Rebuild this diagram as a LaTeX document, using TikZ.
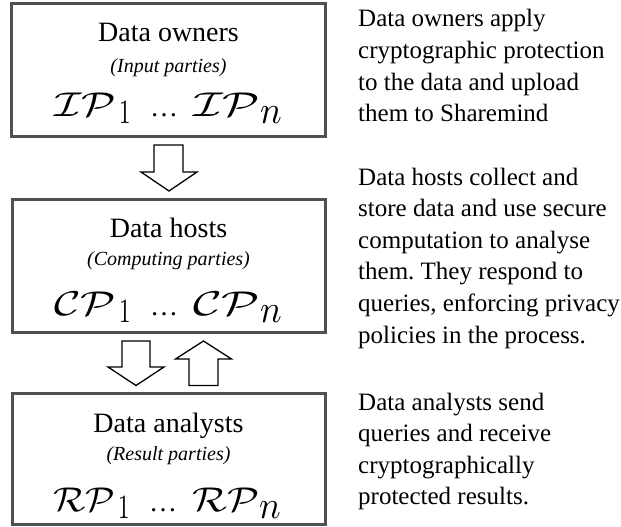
\documentclass[tikz,border=0pt]{standalone}
\usepackage[no-math]{fontspec}
\setmainfont{Liberation Serif}
\usepackage{graphicx}
\frenchspacing
\definecolor{boxgray}{RGB}{80,80,80}
\newcommand{\tridots}{{\fontsize{28}{30}\selectfont\textellipsis}}
\newcommand{\partyrow}[1]{%
  \makebox[65pt][l]{\resizebox{62pt}{23.5pt}{$\mathcal{#1}$}}%
  \makebox[31pt][l]{\raisebox{-7pt}{\scalebox{2.3}[3.4]{$1$}}}%
  \makebox[43pt][l]{\tridots}%
  \resizebox{67pt}{23.5pt}{$\mathcal{#1}$}%
  \raisebox{-7pt}{\scalebox{3.6}[3.9]{$n$}}}
\begin{document}
\begin{tikzpicture}[x=1pt,y=-1pt,
  box/.style={draw=boxgray, line width=3pt, inner sep=0pt, outer sep=0pt, anchor=north west},
  title/.style={anchor=base, inner sep=0pt, font=\fontsize{28}{32}\selectfont},
  subtitle/.style={anchor=base, inner sep=0pt, font=\fontsize{20}{24}\selectfont\itshape},
  formula/.style={anchor=base west, inner sep=0pt},
  desc/.style={anchor=base west, inner sep=0pt, font=\fontsize{25}{31.6}\selectfont},
  blockarrow/.style={draw=black, line width=1.3pt, fill=white, line join=miter}]
\useasboundingbox (0,0) rectangle (621,527);

% boxes
\node[box, minimum width=314pt, minimum height=132pt] (owners) at (11.5,4) {};
\node[box, minimum width=313pt, minimum height=133.5pt] (hosts) at (12,199) {};
\node[box, minimum width=313pt, minimum height=131pt] (analysts) at (12,393) {};

% box texts
\node[title] (t1) at (168.5,42) {Data owners};
\node[subtitle] (s1) at (168.5,73) {(Input parties)};
\node[formula] (f1) at (54,116.5) {\partyrow{IP}};

\node[title] (t2) at (168.5,237) {Data hosts};
\node[subtitle] (s2) at (168.5,265) {(Computing parties)};
\node[formula] (f2) at (54,315.5) {\partyrow{CP}};

\node[title] (t3) at (168.5,432) {Data analysts};
\node[subtitle] (s3) at (168.5,460) {(Result parties)};
\node[formula] (f3) at (53,511.5) {\partyrow{RP}};

% descriptions
\node[desc] (d1) at (358,27) {\begin{tabular}[t]{@{}l@{}}Data owners apply\\cryptographic protection\\to the data and upload\\them to Sharemind\end{tabular}};
\node[desc] (d2) at (358,185) {\begin{tabular}[t]{@{}l@{}}Data hosts collect and\\store data and use secure\\computation to analyse\\them. They respond to\\queries, enforcing privacy\\policies in the process.\end{tabular}};
\node[desc] (d3) at (358,410) {\begin{tabular}[t]{@{}l@{}}Data analysts send\\queries and receive\\cryptographically\\protected results.\end{tabular}};

% block arrows
\draw[blockarrow] (154,145) -- (183,145) -- (183,172) -- (197,172) -- (169,191) -- (141,172) -- (154,172) -- cycle;
\draw[blockarrow] (122,341) -- (150,341) -- (150,367) -- (164,367) -- (136,385.5) -- (108,367) -- (122,367) -- cycle;
\draw[blockarrow] (189,385.5) -- (218,385.5) -- (218,359) -- (231.5,359) -- (203.5,341) -- (175.5,359) -- (189,359) -- cycle;
\end{tikzpicture}
\end{document}
